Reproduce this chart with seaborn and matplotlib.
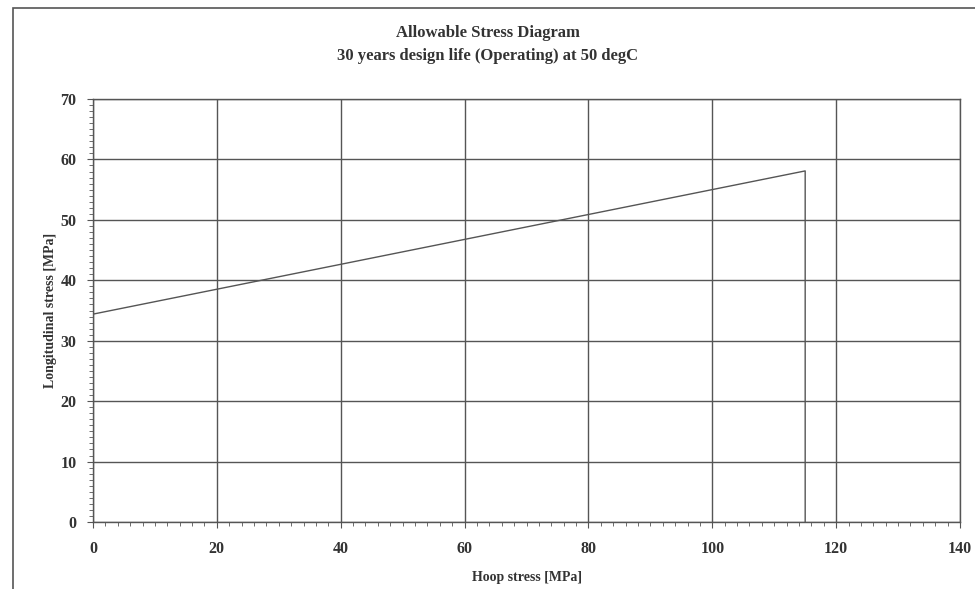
import matplotlib
matplotlib.use("Agg")
import matplotlib.pyplot as plt
from matplotlib.patches import Rectangle
from matplotlib.ticker import MultipleLocator
import seaborn as sns
import pandas as pd

# allowable stress envelope
hoop_stress = [0, 115, 115]
long_stress = [34.4, 58.1, 0]

titre = "Allowable Stress Diagram\n30 years design life (Operating) at 50 degC"

sns.set_style("white")
plt.rcParams["font.family"] = ["Liberation Serif", "DejaVu Serif"]
plt.rcParams["font.weight"] = "bold"

df = pd.DataFrame({"hoop": hoop_stress, "long": long_stress})

fig = plt.figure(figsize=(9.75, 5.89), dpi=100)
ax = fig.add_axes([93 / 975, 1 - 522 / 589, 867 / 975, 423 / 589])

sns.lineplot(data=df, x="hoop", y="long", sort=False, estimator=None,
             color="#555555", linewidth=1.0, ax=ax)

ax.set_xlim(0, 140)
ax.set_ylim(0, 70)
ax.xaxis.set_major_locator(MultipleLocator(20))
ax.xaxis.set_minor_locator(MultipleLocator(2))
ax.yaxis.set_major_locator(MultipleLocator(10))
ax.yaxis.set_minor_locator(MultipleLocator(1))
ax.grid(True, which="major", color="#555555", linewidth=1.0)
ax.set_axisbelow(True)
for s in ax.spines.values():
    s.set_color("#555555")
    s.set_linewidth(1.0)
ax.tick_params(which="both", direction="out", color="#555555", labelsize=11.5,
               labelcolor="#333333", bottom=True, left=True)
ax.tick_params(which="major", length=4)
ax.tick_params(which="minor", length=3)
ax.tick_params(axis="x", pad=10)
ax.tick_params(axis="y", pad=8)
for lab in ax.get_xticklabels() + ax.get_yticklabels():
    lab.set_fontweight("bold")

ax.set_xlabel("Hoop stress [MPa]", fontsize=10, fontweight="bold", color="#333333", labelpad=10)
ax.set_ylabel("Longitudinal stress [MPa]", fontsize=10, fontweight="bold", color="#333333", labelpad=2)

fig.text(0.5, 0.925, titre, ha="center", va="center", fontsize=12,
         fontweight="bold", color="#333333", linespacing=1.6)

# cadre autour du graphique
fig.add_artist(Rectangle((13 / 975, -0.1), 1.1, 1 - 8 / 589 + 0.1, transform=fig.transFigure,
                         fill=False, edgecolor="#555555", linewidth=1.2))

fig.savefig("out.png", dpi=100)
